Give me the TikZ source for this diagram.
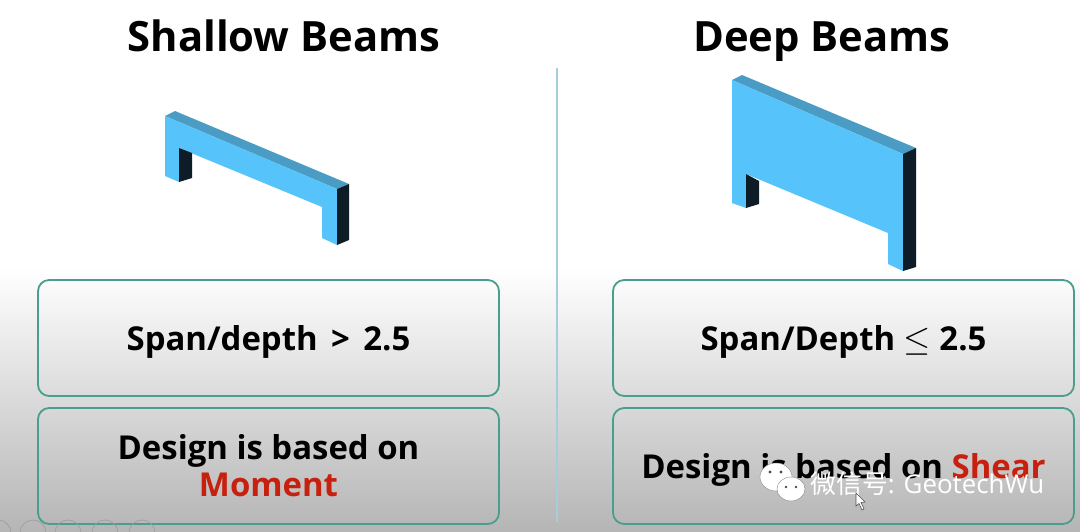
\documentclass[tikz,border=0pt]{standalone}
\usepackage{amsmath}
\usepackage{amssymb}
\usepackage{fontspec}
\setmainfont{Open Sans}
\newfontfamily\cjkfont{Noto Sans CJK SC}
\usetikzlibrary{arrows}
\definecolor{beamfront}{HTML}{56C3FB}
\definecolor{beamtop}{HTML}{4B9CC4}
\definecolor{beamdark}{HTML}{0E1C28}
\definecolor{boxline}{HTML}{4A9E8C}
\definecolor{sepline}{HTML}{A5CEDC}
\definecolor{wordred}{HTML}{C8200F}
\tikzstyle{slide}=[x=0.025cm, y=-0.025cm]
\tikzstyle{title}=[inner sep=0pt, anchor=base, font=\fontsize{29.7}{32}\selectfont\bfseries]
\tikzstyle{rule}=[rectangle, rounded corners=8pt, draw=boxline, line width=1.3pt, minimum width=461*0.025cm, minimum height=116*0.025cm, align=center, font=\fontsize{23.4}{26.5}\selectfont\bfseries]
\tikzstyle{single}=[text depth=0pt]
\tikzstyle{facefront}=[fill=beamfront]
\tikzstyle{facetop}=[fill=beamtop]
\tikzstyle{facedark}=[fill=beamdark]
\tikzstyle{wmark}=[inner sep=0pt, text=white, font=\fontsize{18.4}{20}\selectfont]
\tikzstyle{faint}=[draw=black!38, line width=0.5pt]
\tikzstyle{bubble}=[fill=white, draw=black!45, line width=0.3pt]
\begin{document}
\begin{tikzpicture}[slide]
	\useasboundingbox (0,0) rectangle (1080,532);
	%The background
	\fill[white] (0,0) rectangle (1080,268);
	\shade[top color=white, bottom color=black!29] (0,268) rectangle (1080,532);
	\draw[sepline, line width=1.4pt] (557,68) -- (557,522);

	%The titles
	\draw (284,52) node[title] (shallow) {Shallow Beams};
	\draw (822,52) node[title] (deep) {Deep Beams};

	%The shallow beam
	\fill[facetop] (165,116) -- (175,111) -- (349,184) -- (337,189) -- cycle;
	\fill[facefront] (165,116) -- (337,189) -- (337,245) -- (322,238) -- (322,207) -- (179,148) -- (179,182) -- (165,176) -- cycle;
	\fill[facedark] (337,189) -- (349,184) -- (349,240) -- (337,245) -- cycle;
	\fill[facedark] (179,148) -- (192,153) -- (192,178) -- (179,182) -- cycle;

	%The deep beam
	\fill[facetop] (732,80) -- (742,75) -- (916,148) -- (903,154) -- cycle;
	\fill[facefront] (732,80) -- (903,154) -- (903,271) -- (888,264) -- (888,233) -- (746,174) -- (746,208) -- (732,203) -- cycle;
	\fill[facedark] (903,154) -- (916,148) -- (916,267) -- (903,271) -- cycle;
	\fill[facedark] (746,174) -- (759,181) -- (759,204) -- (746,208) -- cycle;

	%The boxes
	\draw (268.5,338) node[rule, single] (ratio1) {Span/depth\hspace{3.5pt} > \hspace{3.5pt}2.5};
	\draw (268.5,466) node[rule] (basis1) {Design is based on\\\textcolor{wordred}{Moment}};
	\draw (843.5,338) node[rule, single] (ratio2) {Span/Depth $\leq$ 2.5};
	\draw (843.5,466) node[rule, single] (basis2) {Design is based on \textcolor{wordred}{Shear}};

	%The faint icons at the foot
	\begin{scope}
		\clip (0,518) rectangle (180,532);
		\foreach \cx in {-2,33,68,105,142}
			\draw[faint] (\cx,533) circle (13);
	\end{scope}

	%The watermark
	\draw (810,484) node[wmark, anchor=west] (wm) {{\cjkfont 微信号}: GeotechWu};
	\draw[bubble] (776,477) ellipse (16 and 14);
	\draw[bubble] (791,489) ellipse (14 and 12);
	\fill[black!70] (770,472) circle (1.6) (781,472) circle (1.6) (786,487) circle (1.3) (796,487) circle (1.3);
	\fill[white, draw=black!70, line width=0.4pt] (856,493) -- (856,506) -- (859,503.5) -- (862,510) -- (864,509) -- (861,502.5) -- (865,502) -- cycle;
\end{tikzpicture}
\end{document}
